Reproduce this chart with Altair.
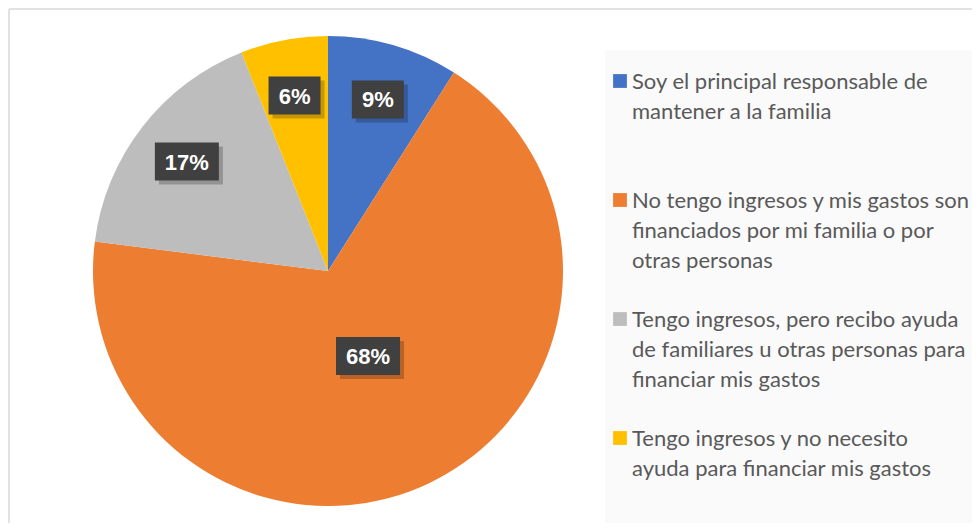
import altair as alt
import pandas as pd

categories = [
    "Soy el principal responsable de mantener a la familia",
    "No tengo ingresos y mis gastos son financiados por mi familia o por otras personas",
    "Tengo ingresos, pero recibo ayuda de familiares u otras personas para financiar mis gastos",
    "Tengo ingresos y no necesito ayuda para financiar mis gastos",
]
legend_lines = [
    "Soy el principal responsable de\nmantener a la familia",
    "No tengo ingresos y mis gastos son\nfinanciados por mi familia o por\notras personas",
    "Tengo ingresos, pero recibo ayuda\nde familiares u otras personas para\nfinanciar mis gastos",
    "Tengo ingresos y no necesito\nayuda para financiar mis gastos",
]
values = [9, 68, 17, 6]
colors = ["#4472C4", "#ED7D31", "#BDBDBD", "#FFC000"]

W, H = 964, 515
CX, CY, R = 320, 263, 235

df = pd.DataFrame({
    "cat": categories,
    "value": values,
    "order": list(range(len(values))),
    "legend": legend_lines,
})

color = alt.Color("cat:N", scale=alt.Scale(domain=categories, range=colors), legend=None)
base = alt.Chart(df)

pie = base.mark_arc(outerRadius=R).encode(
    theta=alt.Theta("value:Q", stack=True),
    order=alt.Order("order:Q"),
    color=color,
    x=alt.value(CX),
    y=alt.value(CY),
)

lab = (
    base.transform_joinaggregate(total="sum(value)")
    .transform_window(cum="sum(value)", sort=[alt.SortField("order")], frame=[None, 0])
    .transform_calculate(mid="(datum.cum - datum.value/2) / datum.total * 2 * PI")
    .transform_calculate(r=f"datum.value > 50 ? {0.40 * R} : {0.76 * R}")
    .transform_calculate(
        lx=f"{CX} + datum.r * sin(datum.mid)",
        ly=f"{CY} - datum.r * cos(datum.mid)",
        label="datum.value + '%'",
    )
    .transform_calculate(w="28 + 12 * length(datum.label)")
    .transform_calculate(
        bx1="datum.lx - datum.w/2", bx2="datum.lx + datum.w/2",
        by1="datum.ly - 19", by2="datum.ly + 19",
        sx1="datum.lx - datum.w/2 + 4", sx2="datum.lx + datum.w/2 + 4",
        sy1="datum.ly - 15", sy2="datum.ly + 23",
    )
)

shadow = lab.mark_rect(color="#000000", opacity=0.22).encode(
    x=alt.X("sx1:Q", scale=None), x2="sx2:Q",
    y=alt.Y("sy1:Q", scale=None), y2="sy2:Q",
)
box = lab.mark_rect(color="#404040").encode(
    x=alt.X("bx1:Q", scale=None), x2="bx2:Q",
    y=alt.Y("by1:Q", scale=None), y2="by2:Q",
)
txt = lab.mark_text(font="Liberation Sans", fontWeight="bold", fontSize=22,
                    color="white", baseline="middle", align="center", dy=1).encode(
    x=alt.X("lx:Q", scale=None),
    y=alt.Y("ly:Q", scale=None),
    text="label:N",
)

legend_bg = alt.Chart(pd.DataFrame({"a": [0]})).mark_rect(color="#FAFAFA").encode(
    x=alt.value(597), x2=alt.value(W), y=alt.value(42), y2=alt.value(H)
)
border_top = alt.Chart(pd.DataFrame({"a": [0]})).mark_rule(color="#D9D9D9", strokeWidth=1.5).encode(
    x=alt.value(1), x2=alt.value(W), y=alt.value(1)
)
border_left = alt.Chart(pd.DataFrame({"a": [0]})).mark_rule(color="#D9D9D9", strokeWidth=1.5).encode(
    x=alt.value(1), y=alt.value(1), y2=alt.value(H)
)

leg = base.transform_calculate(gy="73 + 119 * datum.order")
leg_sym = leg.mark_square(size=190, opacity=1).encode(
    x=alt.value(612),
    y=alt.Y("gy:Q", scale=None),
    color=color,
)
leg_txt = leg.mark_text(font="Lato", fontSize=22, color="#595959", align="left",
                        baseline="middle", lineBreak="\n", lineHeight=30, dy=1).encode(
    x=alt.value(624),
    y=alt.Y("gy:Q", scale=None),
    text="legend:N",
)

chart = alt.layer(
    border_top, border_left, legend_bg, pie, shadow, box, txt, leg_sym, leg_txt
).properties(
    width=W, height=H, padding=0, autosize=alt.AutoSizeParams(type="none")
).configure_view(stroke=None)

chart.save("out.html", embed_options={"renderer": "svg", "actions": False})
